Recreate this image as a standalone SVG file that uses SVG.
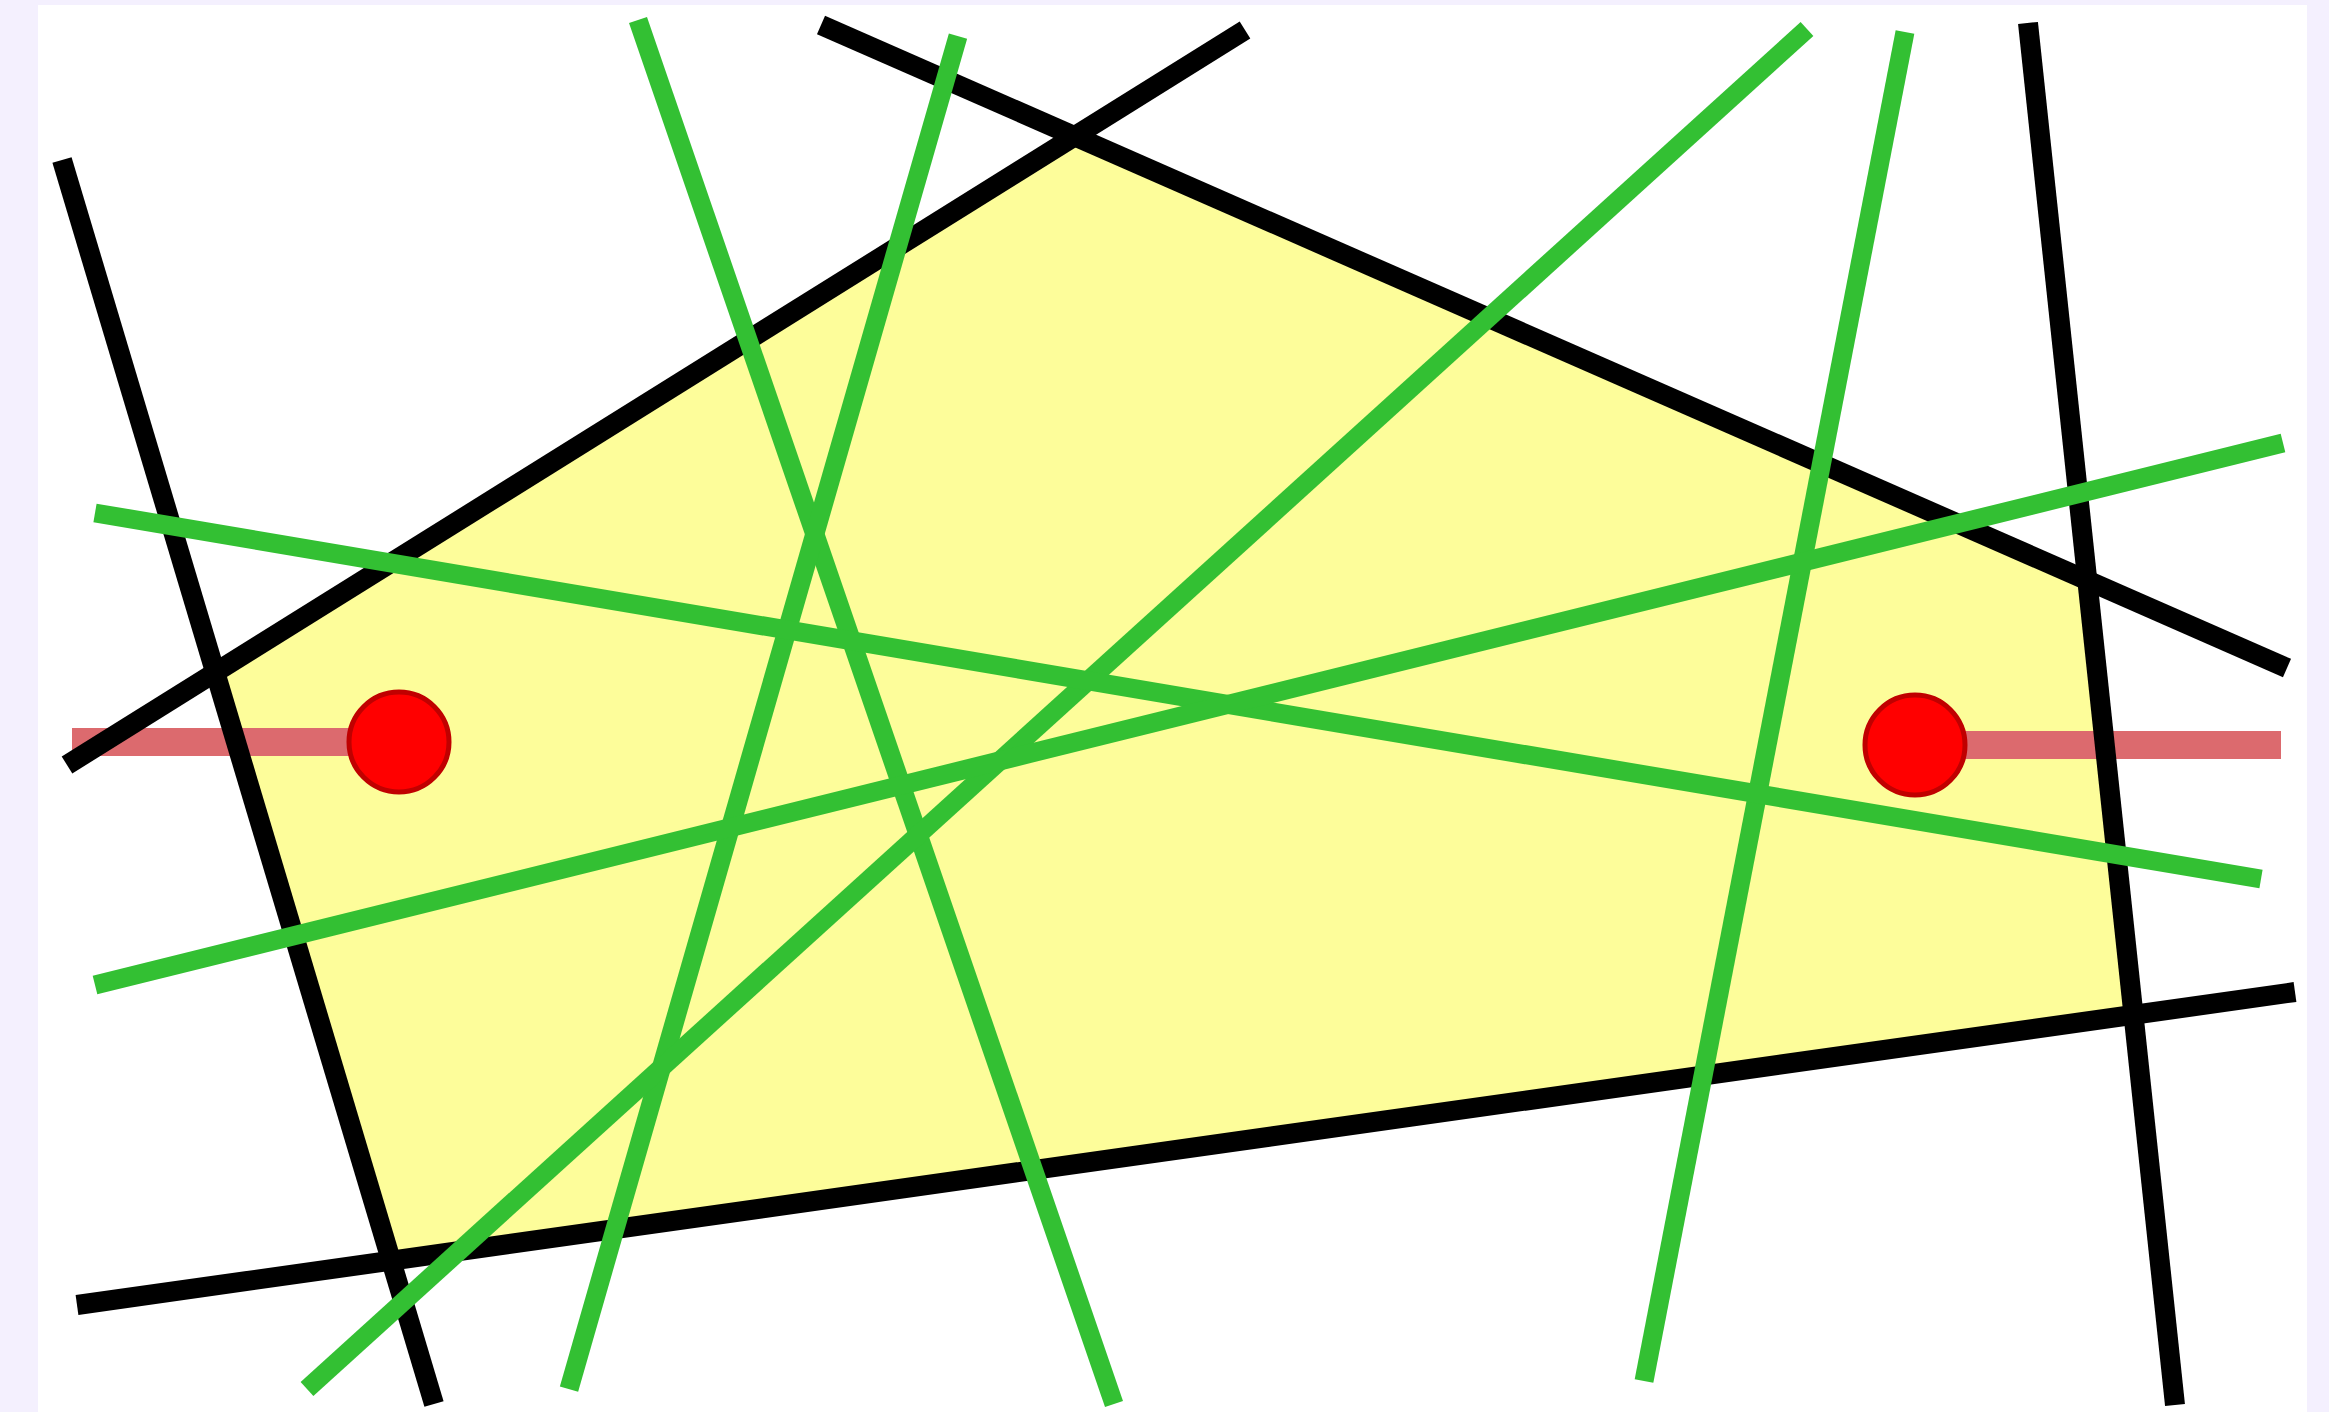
<svg xmlns="http://www.w3.org/2000/svg" width="2329" height="1412" viewBox="0 0 2329 1412">
  <style>
    .blk { stroke: #000000; stroke-width: 20; fill: none; stroke-linecap: butt; }
    .grn { stroke: #33c033; stroke-width: 19; fill: none; stroke-linecap: butt; }
    .ray { stroke: #dc6a6e; stroke-width: 28; fill: none; stroke-linecap: butt; }
    .pt { fill: #ff0000; stroke: #c00000; stroke-width: 5; }
  </style>
  <rect x="0" y="0" width="2329" height="1412" fill="#f4f0fe"/>
  <rect x="38" y="5" width="2269" height="1407" fill="#ffffff"/>
  <g id="region">
    <polygon points="215,673 1075,136 2087,580 2134,1015 391,1261" fill="#fdfd9a"/>
  </g>
  <g id="rays">
    <line class="ray" x1="72" y1="742" x2="399" y2="742"/>
    <line class="ray" x1="1915" y1="745" x2="2281" y2="745"/>
  </g>
  <g id="black-lines">
    <line class="blk" x1="62" y1="160" x2="434" y2="1404"/>
    <line class="blk" x1="67" y1="765" x2="1245" y2="30"/>
    <line class="blk" x1="821" y1="25" x2="2287" y2="668"/>
    <line class="blk" x1="2028" y1="23" x2="2175" y2="1405"/>
    <line class="blk" x1="77" y1="1305" x2="2295" y2="992"/>
  </g>
  <g id="green-lines">
    <line class="grn" x1="638" y1="20" x2="1114" y2="1404"/>
    <line class="grn" x1="958" y1="36" x2="569" y2="1389"/>
    <line class="grn" x1="1807" y1="29" x2="307" y2="1389"/>
    <line class="grn" x1="1905" y1="32" x2="1644" y2="1381"/>
    <line class="grn" x1="95" y1="513" x2="2261" y2="879"/>
    <line class="grn" x1="95" y1="985" x2="2283" y2="443"/>
  </g>
  <g id="point-left">
    <circle class="pt" cx="399" cy="742" r="50"/>
  </g>
  <g id="point-right">
    <circle class="pt" cx="1915" cy="745" r="50"/>
  </g>
</svg>
